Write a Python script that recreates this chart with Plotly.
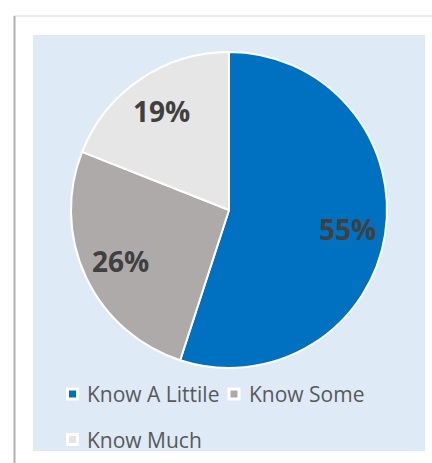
import math
import plotly.graph_objects as go

# Survey shares
labels = ["Know A Littile", "Know Some", "Know Much"]
values = [55, 26, 19]
colors = ["#0070C0", "#AEAAAA", "#E7E6E6"]

W, H = 432, 463
CX, CY, R = 229, 210, 158          # pie centre / radius in pixels
PANEL = (33, 35, 425, 451)         # light-blue plot panel (x0, y0, x1, y1)


def px(x):
    return x / W


def py(y):
    return 1 - y / H


fig = go.Figure(
    go.Pie(
        labels=labels,
        values=values,
        sort=False,
        direction="clockwise",
        rotation=0,
        marker=dict(colors=colors, line=dict(color="white", width=2)),
        textinfo="none",
        hoverinfo="label+percent",
        showlegend=False,
        domain=dict(x=[px(CX - R), px(CX + R)], y=[py(CY + R), py(CY - R)]),
    )
)

shapes = [
    # card edges
    dict(type="line", xref="paper", yref="paper", x0=px(14), x1=1, y0=py(16), y1=py(16),
         line=dict(color="#E4E4E4", width=1.5), layer="below"),
    dict(type="line", xref="paper", yref="paper", x0=px(14.5), x1=px(14.5), y0=py(16), y1=0,
         line=dict(color="#B0B0B0", width=2), layer="below"),
    # panel
    dict(type="rect", xref="paper", yref="paper", x0=px(PANEL[0]), x1=px(PANEL[2]),
         y0=py(PANEL[3]), y1=py(PANEL[1]), fillcolor="#DEEAF6", line=dict(width=0),
         layer="below"),
]

annotations = []

# percentage labels at slice bisectors
total = sum(values)
cum = 0
for v in values:
    mid = (cum + v / 2) / total * 2 * math.pi
    cum += v
    r = 0.76 * R
    x = CX + r * math.sin(mid)
    y = CY - r * math.cos(mid)
    annotations.append(dict(
        x=px(x), y=py(y), xref="paper", yref="paper", showarrow=False,
        text=f"{round(v / total * 100)}%", xanchor="center", yanchor="middle",
        font=dict(family="Open Sans", size=28, color="#404040", weight="bold"),
    ))

# legend entries
legend_pos = [(72.5, 394), (234, 394), (72.5, 439.5)]
for (lx, ly), lab, col in zip(legend_pos, labels, colors):
    shapes.append(dict(type="rect", xref="paper", yref="paper",
                       x0=px(lx - 6.5), x1=px(lx + 6.5), y0=py(ly + 6.5), y1=py(ly - 6.5),
                       fillcolor="white", line=dict(width=0)))
    shapes.append(dict(type="rect", xref="paper", yref="paper",
                       x0=px(lx - 3.5), x1=px(lx + 3.5), y0=py(ly + 3.5), y1=py(ly - 3.5),
                       fillcolor=col, line=dict(width=0)))
    annotations.append(dict(
        x=px(lx + 12.5), y=py(ly), xref="paper", yref="paper", showarrow=False,
        text=lab, xanchor="left", yanchor="middle",
        font=dict(family="Open Sans", size=21, color="#595959"),
    ))

fig.update_layout(
    width=W, height=H,
    margin=dict(l=0, r=0, t=0, b=0),
    paper_bgcolor="white",
    plot_bgcolor="white",
    shapes=shapes,
    annotations=annotations,
)

fig.write_html("out.html", config={"displayModeBar": False})
